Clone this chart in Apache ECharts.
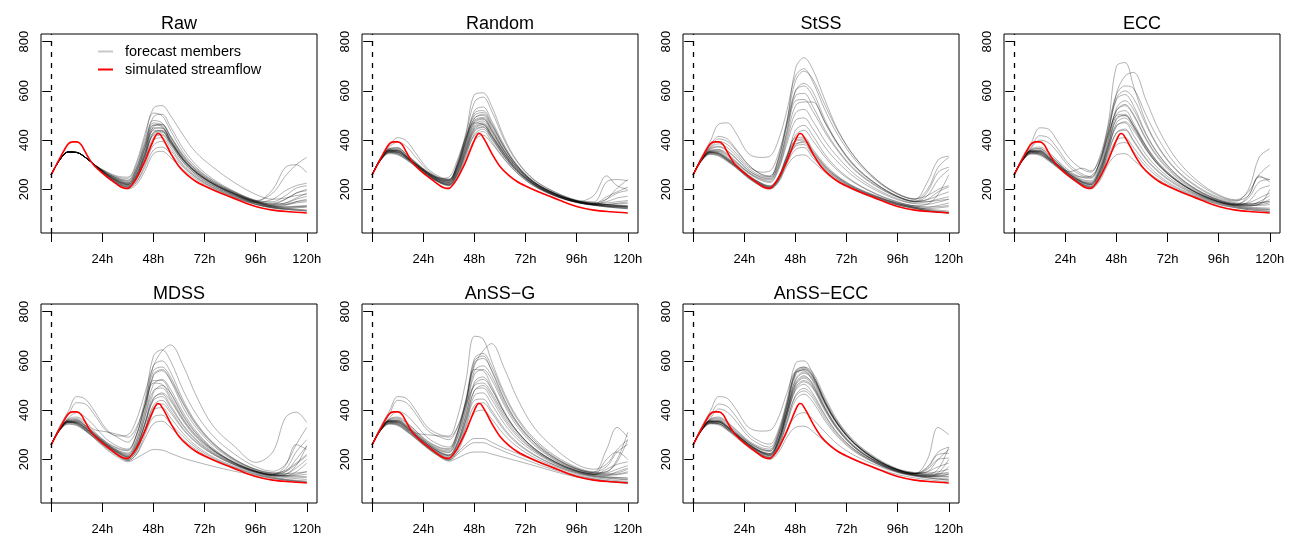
<!DOCTYPE html>
<html><head><meta charset="utf-8">
<script src="https://cdn.jsdelivr.net/npm/echarts@6/dist/echarts.min.js"></script>
<style>html,body{margin:0;padding:0;background:#fff}#c{width:1302px;height:541px}</style>
</head><body><div id="c"></div>
<script>
// ---------------- DATA ----------------
const TITLES = ['Raw','Random','StSS','ECC','MDSS','AnSS\u2212G','AnSS\u2212ECC'];
const X_TICKS = [0,24,48,72,96,120];
const X_LABELS = ['','24h','48h','72h','96h','120h'];
const Y_TICKS = [200,400,600,800];
// lead times (hours) at which member values are read
const H = [0,4,8,12,16,20,26,32,36,40,44,48,52,56,62,68,76,86,96,104,110,115,120];
// simulated streamflow
const RED_H = [0,2,4,6,8,10,12,14,16,18,20,24,28,32,34,36,38,40,42,44,46,48,49,50,51,52,54,56,60,64,68,72,80,88,96,104,112,120];
const RED_V = [260,293,326,358,385,393,393,382,352,322,298,266,240,214,206,204,220,245,278,315,358,400,418,427,425,412,382,348,293,258,232,214,183,156,131,116,109,104];

const RAW = [
[260,320,352,350,330,302,262,232,222,262,350,440,438,390,318,268,222,180,148,130,124,120,116],
[260,320,352,350,330,302,258,226,215,250,330,420,425,385,310,262,215,175,145,128,120,116,112],
[260,320,352,350,330,302,265,238,228,275,370,462,455,400,322,272,224,182,150,132,128,130,132],
[260,320,352,350,330,302,255,222,210,240,318,400,410,370,300,255,210,172,142,126,122,125,128],
[260,320,352,350,330,302,268,242,235,285,385,480,470,415,335,280,230,186,152,135,140,150,155],
[260,320,352,350,330,302,260,230,220,258,345,445,450,400,325,272,225,183,150,140,160,185,195],
[260,320,352,350,330,302,252,220,208,232,300,380,395,360,295,250,207,170,140,125,120,118,115],
[260,320,352,350,330,302,270,248,245,300,410,510,500,440,350,290,236,190,156,150,175,205,215],
[260,320,352,350,330,302,262,234,225,270,365,455,465,418,340,285,234,188,152,140,145,160,172],
[260,320,352,350,330,302,258,228,218,255,340,430,440,395,322,270,222,180,148,135,138,145,150],
[260,320,352,350,330,302,272,252,250,310,425,530,540,500,420,350,290,228,180,160,165,175,180],
[260,320,352,350,330,302,250,218,205,228,290,360,372,345,290,248,205,168,140,128,126,128,130],
[260,320,352,350,330,302,248,215,202,220,275,345,355,330,280,242,200,165,138,124,118,115,112],
[260,320,352,350,330,302,265,240,232,282,380,470,460,405,328,275,226,184,150,200,290,300,268],
[260,320,352,350,330,302,260,232,222,262,355,450,448,398,322,270,223,183,155,185,255,300,330],
[260,320,352,350,330,302,256,225,214,248,335,425,432,390,318,266,219,178,147,160,195,215,225],
[260,320,352,350,330,302,263,236,226,272,368,460,462,412,333,279,229,185,152,145,160,185,200],
[260,320,352,350,330,302,259,229,219,253,338,432,436,392,318,268,221,179,147,133,130,132,135],
[260,320,352,350,330,302,254,222,211,242,322,410,420,380,310,260,214,175,145,130,135,150,160],
[260,320,352,350,330,302,266,244,238,290,395,495,505,455,365,300,242,192,155,140,145,165,185]
];
const RANDOM = [
[260,322,355,352,330,303,262,232,225,275,370,455,470,425,345,280,222,178,150,139,134,131,129],
[260,324,360,360,335,306,265,236,228,282,382,470,485,440,355,288,226,180,152,141,137,135,133],
[260,320,350,345,325,298,258,228,220,265,355,440,455,412,336,274,218,175,148,137,131,127,124],
[260,326,365,370,342,312,268,240,232,290,395,490,500,452,362,292,228,182,153,142,139,141,144],
[260,318,345,340,320,295,255,225,216,255,340,420,435,395,325,268,214,173,147,136,129,125,121],
[260,328,372,392,375,335,278,245,235,295,405,520,535,480,380,300,232,184,154,145,160,185,195],
[260,330,378,410,398,352,285,250,240,300,420,555,575,520,400,312,238,188,156,147,139,135,131],
[260,325,362,365,340,310,270,242,238,310,430,585,592,540,410,316,240,189,156,149,230,240,235],
[260,322,356,354,332,304,264,235,230,280,375,462,478,432,350,284,224,179,151,140,150,165,172],
[260,320,352,350,328,300,260,230,222,268,360,445,462,418,340,277,220,176,149,138,133,130,128],
[260,323,358,358,333,305,268,245,250,320,410,470,465,420,345,281,222,178,150,175,255,215,200],
[260,321,354,351,329,301,261,229,218,260,345,425,445,405,332,272,217,174,148,137,132,129,126],
[260,319,348,343,322,296,256,226,214,250,330,400,420,388,322,266,213,172,146,135,129,125,122],
[260,324,360,358,335,308,270,246,242,305,415,500,512,465,372,296,230,183,153,143,145,150,155],
[260,322,356,355,333,305,265,236,228,285,385,475,488,440,355,288,226,181,152,141,170,190,210],
[260,320,350,346,326,300,258,227,219,263,352,435,452,410,335,276,219,175,148,137,133,131,129],
[260,326,366,368,344,314,272,244,240,300,405,488,505,460,370,296,230,183,153,142,138,136,135],
[260,323,358,357,334,306,266,240,236,295,395,480,492,445,358,290,227,181,152,141,139,144,149],
[260,321,353,350,328,301,262,232,224,272,365,450,465,420,343,279,221,177,149,138,160,205,240],
[260,325,363,362,338,309,268,238,234,290,398,510,520,470,372,296,229,182,153,142,137,133,130]
];
const STSS = [
[260,320,350,345,322,296,252,220,208,240,320,385,390,345,285,242,202,168,140,125,115,110,106],
[260,318,346,340,318,292,248,215,204,235,312,375,382,340,282,240,200,166,138,124,114,109,105],
[260,322,353,350,327,300,256,224,212,248,332,400,405,358,295,250,208,172,143,128,120,116,112],
[260,320,349,344,320,294,250,218,206,238,318,380,395,355,292,247,206,170,142,128,122,125,130],
[260,324,356,354,330,303,258,226,215,252,340,410,412,365,300,253,210,174,145,132,128,135,145],
[260,317,344,338,316,290,246,214,203,232,305,362,370,330,276,235,197,164,137,123,113,108,104],
[260,316,342,335,313,288,244,212,202,228,295,335,340,315,268,230,195,162,136,122,112,107,103],
[260,330,380,415,405,365,300,260,252,320,460,580,590,540,440,360,280,215,170,150,160,190,210],
[260,335,395,465,470,430,345,330,335,400,520,660,690,640,520,420,320,235,180,160,200,290,330],
[260,328,375,405,395,360,298,262,255,330,480,640,680,650,540,435,330,240,182,160,230,320,335],
[260,326,368,385,370,338,285,255,250,320,470,690,735,690,560,440,330,240,183,162,175,200,215],
[260,324,362,372,355,325,276,248,242,300,430,560,565,520,430,355,276,212,168,150,175,240,280],
[260,322,356,360,340,312,268,240,232,285,400,510,525,480,395,330,260,202,162,145,150,160,170],
[260,323,358,362,345,315,270,243,238,292,415,540,555,555,470,385,295,222,172,152,190,270,290],
[260,321,354,356,336,308,265,236,228,278,385,480,490,448,370,310,248,195,158,142,140,148,160],
[260,325,365,375,358,328,278,250,245,305,440,600,630,600,480,385,295,222,172,152,158,175,190],
[260,320,350,346,324,298,254,222,210,245,330,395,400,350,290,246,204,170,142,127,118,112,108],
[260,322,352,348,325,299,255,223,213,250,335,420,440,400,330,275,225,180,148,133,128,130,135],
[260,319,348,342,320,293,250,218,207,242,325,440,460,420,340,282,228,182,150,134,140,180,260],
[260,327,370,395,382,348,292,270,275,345,470,600,620,580,470,380,290,220,171,152,150,155,160]
];
const ECC = [
[260,320,352,350,326,298,255,222,212,255,350,430,440,395,320,268,218,175,145,130,122,118,115],
[260,322,356,356,332,303,260,228,220,268,370,460,470,420,340,282,228,180,148,133,128,126,124],
[260,318,346,342,320,293,250,216,206,240,318,380,390,355,292,248,205,168,140,126,118,113,110],
[260,334,390,450,445,400,325,282,270,330,460,700,715,620,470,370,282,212,168,152,200,330,365],
[260,326,368,400,390,355,290,255,248,305,430,590,660,675,560,440,325,235,178,158,190,260,300],
[260,328,372,418,410,370,300,262,252,310,450,585,620,610,500,400,300,225,174,155,175,250,240],
[260,322,355,354,330,302,262,232,225,275,380,505,520,470,375,305,240,185,150,136,150,200,215],
[260,324,360,365,342,312,268,240,235,295,420,565,585,540,425,340,262,198,158,142,140,145,150],
[260,320,350,347,324,297,254,222,214,258,355,470,490,450,362,296,236,184,150,136,145,165,185],
[260,321,353,351,328,300,258,228,220,268,368,490,500,455,365,298,236,184,150,136,132,140,160],
[260,319,348,344,322,295,252,219,208,245,330,400,410,370,305,256,210,172,143,129,122,120,118],
[260,317,343,338,316,290,248,214,203,232,300,340,345,320,275,238,200,166,138,125,118,114,110],
[260,323,358,360,338,310,268,250,255,305,410,520,545,505,405,328,256,195,156,140,165,230,240],
[260,325,364,372,352,320,275,248,245,310,435,570,600,570,460,365,278,208,163,146,142,146,152],
[260,321,354,353,330,302,260,230,222,272,378,485,500,460,370,300,238,186,151,137,133,138,145],
[260,323,357,358,335,306,264,236,230,285,400,520,540,500,400,322,250,192,154,139,136,140,200],
[260,320,351,348,326,299,256,226,218,262,360,455,475,440,360,296,236,185,151,137,175,255,230],
[260,324,362,366,345,314,272,286,275,320,420,500,505,460,375,305,242,188,153,139,135,150,175],
[260,318,347,343,321,294,252,220,210,250,340,430,445,400,325,272,222,178,147,133,126,122,120],
[260,322,355,355,332,304,262,232,226,280,392,530,560,525,420,338,260,198,158,142,138,135,138]
];
const MDSS = [
[260,320,350,346,322,295,252,216,200,232,318,400,410,370,305,256,210,172,143,128,120,115,112],
[260,322,355,354,330,302,260,226,212,255,350,450,465,420,340,282,228,182,150,136,130,128,126],
[260,318,345,340,318,291,248,212,195,222,300,372,380,345,292,248,205,168,140,126,118,113,110],
[260,330,380,430,425,385,315,295,300,360,470,580,640,665,580,460,336,254,188,230,370,392,350],
[260,335,395,455,445,400,322,285,270,320,440,620,645,600,480,385,295,222,170,152,180,260,330],
[260,320,350,344,318,288,240,205,190,205,225,240,238,225,205,190,172,152,135,122,115,110,106],
[260,324,360,362,338,308,264,232,222,275,390,540,560,520,410,330,256,194,155,140,160,230,280],
[260,322,356,356,334,305,262,230,218,265,375,505,525,485,390,315,245,188,152,138,150,200,255],
[260,326,368,390,372,338,282,250,242,300,420,580,600,555,440,350,268,202,160,145,155,185,220],
[260,320,352,349,326,298,256,222,208,248,340,440,455,412,335,278,225,180,148,134,132,135,140],
[260,321,353,351,328,300,258,225,212,252,345,470,500,470,380,308,240,186,151,137,140,165,200],
[260,319,348,343,320,293,250,215,200,235,320,420,440,400,325,272,222,178,147,132,126,122,118],
[260,317,343,337,315,288,245,210,195,220,285,345,355,330,280,240,200,165,138,124,116,111,107],
[260,323,358,360,338,310,268,240,235,295,415,520,520,470,375,305,240,188,153,139,135,140,150],
[260,325,364,372,352,322,312,300,290,330,420,510,505,455,365,298,238,186,152,138,134,132,130],
[260,321,354,352,330,302,260,228,216,262,368,480,490,445,360,295,236,185,151,137,175,260,240],
[260,322,356,357,335,306,264,234,226,280,400,545,565,525,425,340,262,198,158,143,150,180,215],
[260,320,351,347,324,297,254,220,205,240,325,410,425,390,320,268,220,178,147,133,140,175,255],
[260,324,362,366,345,315,270,244,238,300,425,560,575,535,430,345,266,200,160,145,142,145,150],
[260,321,352,349,327,299,257,224,210,250,342,445,470,438,355,290,233,183,150,136,134,150,185]
];
const ANSS_G = [
[260,320,352,350,326,298,255,220,205,245,340,440,445,400,325,270,220,176,146,131,124,120,116],
[260,322,356,355,332,303,260,226,214,262,365,480,490,445,360,295,236,184,150,135,130,127,124],
[260,318,346,342,318,291,248,212,198,230,310,390,400,365,300,252,208,170,141,127,119,114,110],
[260,335,395,455,448,405,330,300,295,370,520,700,690,600,470,372,285,214,168,150,170,230,260],
[260,330,382,440,430,390,318,290,280,330,440,580,640,670,570,450,330,242,180,160,180,240,280],
[260,326,368,395,380,345,288,258,250,310,445,610,630,580,460,365,278,208,164,148,240,330,290],
[260,324,362,368,348,318,272,245,240,305,430,600,620,560,440,350,270,204,162,146,150,200,310],
[260,322,356,357,335,306,264,234,228,285,400,545,565,525,420,335,258,196,157,142,145,160,175],
[260,320,350,346,322,294,250,214,200,228,262,285,285,270,245,225,195,162,136,122,114,110,106],
[260,318,345,340,316,289,246,210,196,220,250,268,268,255,232,212,186,156,132,120,112,108,104],
[260,317,343,337,314,287,244,208,193,205,222,230,230,222,208,194,175,150,128,116,110,106,103],
[260,321,354,352,330,302,260,228,218,268,380,505,525,485,390,315,245,190,154,139,200,230,200],
[260,323,358,360,338,309,266,236,230,290,410,560,580,540,430,345,264,200,160,145,150,190,280],
[260,320,351,348,325,298,255,222,210,255,352,460,470,425,345,284,230,181,149,134,128,126,124],
[260,322,355,354,331,303,261,229,219,270,382,515,535,490,390,315,246,190,154,139,135,138,145],
[260,324,361,364,342,312,268,240,235,300,425,590,610,565,445,352,270,204,161,145,142,145,160],
[260,321,353,351,328,300,258,226,215,260,360,480,500,460,370,302,238,186,151,137,160,180,190],
[260,319,348,344,321,294,251,218,205,240,330,420,430,390,318,265,217,175,145,131,126,122,118],
[260,325,364,372,352,320,275,248,244,310,435,565,560,500,395,315,245,190,154,140,138,140,150],
[260,323,357,358,336,308,300,295,290,330,420,500,510,470,380,310,242,188,153,139,136,150,165]
];
const ANSS_ECC = [
[260,320,352,352,330,302,258,225,215,265,375,480,505,470,380,305,238,185,150,135,128,124,120],
[260,322,356,356,334,305,262,230,222,278,395,510,540,505,405,320,246,189,152,137,132,130,128],
[260,318,346,344,322,295,252,218,206,248,345,440,465,435,355,290,230,182,148,133,125,120,116],
[260,335,395,455,448,405,330,315,318,370,470,555,560,520,420,340,262,198,158,143,150,200,240],
[260,328,375,425,415,375,305,270,262,320,440,590,600,550,430,340,260,196,157,142,200,330,300],
[260,326,366,405,392,356,292,258,250,310,430,560,575,540,430,342,262,198,158,143,150,170,185],
[260,324,362,368,348,318,272,242,235,295,415,550,570,545,440,350,268,202,160,145,140,160,250],
[260,322,356,357,335,306,264,232,224,282,400,525,555,530,430,343,264,200,158,143,140,142,148],
[260,320,350,348,326,299,256,222,210,258,360,460,488,460,375,302,238,186,151,136,130,132,138],
[260,321,353,352,330,302,260,228,218,272,388,500,530,500,405,325,250,192,154,139,135,135,140],
[260,319,348,345,322,295,252,218,205,238,320,375,390,365,310,260,215,176,146,132,125,120,116],
[260,317,344,340,318,290,248,214,200,228,290,330,335,315,270,232,196,164,138,125,118,113,109],
[260,323,358,360,338,310,268,238,232,292,410,540,565,540,435,345,264,200,158,143,165,220,225],
[260,325,364,372,352,322,276,248,242,305,425,555,575,555,450,355,272,206,162,147,145,150,160],
[260,321,354,354,332,304,262,230,220,275,390,505,535,510,410,328,252,193,155,140,160,200,205],
[260,320,351,350,328,300,258,226,214,265,375,485,515,490,395,318,246,190,153,138,133,138,170],
[260,322,355,355,333,305,263,232,224,280,398,520,550,525,425,338,260,197,157,142,138,140,142],
[260,324,360,364,343,313,270,242,236,298,418,548,565,535,430,343,263,199,158,143,170,230,250],
[260,318,347,345,323,296,253,220,208,252,352,455,478,450,365,296,234,184,150,135,130,145,200],
[260,321,353,352,330,302,259,228,218,270,382,492,520,495,400,322,248,191,154,139,134,132,130]
];
const PANEL_MEMBERS = [RAW, RANDOM, STSS, ECC, MDSS, ANSS_G, ANSS_ECC];

// ---------------- CHART ----------------
const chart = echarts.init(document.getElementById('c'), null, {renderer: 'canvas'});
const FONT = '"Liberation Sans", Arial, Helvetica, sans-serif';
const LEFTS = [41, 362, 683, 1004], TOPS = [34, 304], W = 276, HT = 199;
const MEMBER_COLOR = 'rgba(0,0,0,0.3)';
const grids = [], xAxes = [], yAxes = [], series = [], titles = [];

PANEL_MEMBERS.forEach((members, i) => {
  const col = i % 4, row = Math.floor(i / 4);
  grids.push({left: LEFTS[col], top: TOPS[row], width: W, height: HT,
    show: true, borderColor: '#000', borderWidth: 1, backgroundColor: 'transparent', containLabel: false});
  xAxes.push({type: 'value', gridIndex: i, min: -4.8, max: 124.8,
    axisLine: {show: false}, splitLine: {show: false},
    axisTick: {show: true, length: 9, customValues: X_TICKS, lineStyle: {color: '#000', width: 1}},
    axisLabel: {show: true, customValues: X_TICKS, margin: 20, color: '#000', fontSize: 13, fontFamily: FONT,
      formatter: v => { const k = X_TICKS.indexOf(v); return k >= 0 ? X_LABELS[k] : ''; }}});
  yAxes.push({type: 'value', gridIndex: i, min: 23, max: 831,
    axisLine: {show: false}, splitLine: {show: false},
    axisTick: {show: true, length: 9, customValues: Y_TICKS, lineStyle: {color: '#000', width: 1}},
    axisLabel: {show: true, customValues: Y_TICKS, rotate: 90, margin: 10, color: '#000', fontSize: 13, fontFamily: FONT}});
  titles.push({text: TITLES[i], left: LEFTS[col] + W / 2, top: TOPS[row] - 19, textAlign: 'center', padding: 0,
    textStyle: {fontSize: 18, fontWeight: 'normal', color: '#000', fontFamily: FONT}});
  members.forEach(m => {
    series.push({type: 'line', name: 'forecast members', xAxisIndex: i, yAxisIndex: i,
      data: H.map((h, k) => [h, m[k]]), symbol: 'none', smooth: 0.35, silent: true,
      lineStyle: {color: MEMBER_COLOR, width: 1}, itemStyle: {color: MEMBER_COLOR}, z: 2});
  });
  series.push({type: 'line', name: 'simulated streamflow', xAxisIndex: i, yAxisIndex: i,
    data: RED_H.map((h, k) => [h, RED_V[k]]), symbol: 'none', smooth: 0.3, silent: true,
    lineStyle: {color: '#ff0000', width: 1.6}, itemStyle: {color: '#ff0000'}, z: 3,
    markLine: {silent: true, symbol: 'none', label: {show: false},
      lineStyle: {type: [5, 6], color: '#000', width: 1.3},
      data: [{xAxis: 0}]}});
});

chart.setOption({
  animation: false,
  backgroundColor: '#fff',
  title: titles,
  legend: {show: true, left: 98, top: 44, orient: 'vertical', padding: 0, itemGap: 3,
    itemWidth: 15, itemHeight: 2, icon: 'rect', selectedMode: false,
    textStyle: {fontSize: 14.5, color: '#000', fontFamily: FONT, padding: [0, 0, 0, 7]},
    data: [{name: 'forecast members', itemStyle: {color: '#c8c8c8'}},
           {name: 'simulated streamflow', itemStyle: {color: '#ff0000'}}]},
  grid: grids, xAxis: xAxes, yAxis: yAxes, series: series
});
</script></body></html>
